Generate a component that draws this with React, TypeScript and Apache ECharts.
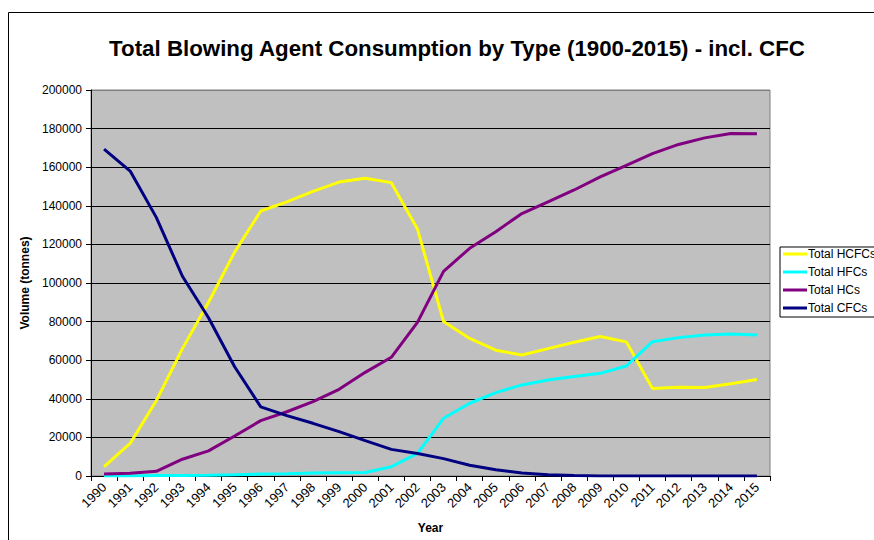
import React, { useEffect, useRef } from "react";
import * as echarts from "echarts";

const years = [
  "1990", "1991", "1992", "1993", "1994", "1995", "1996", "1997", "1998", "1999",
  "2000", "2001", "2002", "2003", "2004", "2005", "2006", "2007", "2008", "2009",
  "2010", "2011", "2012", "2013", "2014", "2015",
];

const hcfcs = [
  4800, 16900, 39000, 66000, 90000, 116000, 137300, 142000, 147500, 152300,
  154300, 152000, 128000, 80000, 71300, 65200, 62700, 66000, 69300, 72300,
  69500, 45300, 46000, 45800, 47800, 50000,
];
const hfcs = [
  0, 0, 200, 300, 400, 600, 1000, 1200, 1500, 1700,
  1800, 4800, 11700, 29900, 37700, 43200, 47200, 49700, 51500, 53200,
  57000, 69600, 71700, 73100, 73600, 73100,
];
const hcs = [
  1000, 1400, 2400, 8700, 13000, 20700, 28700, 33300, 38500, 44900,
  53700, 61500, 79600, 106000, 118000, 126600, 136000, 142000, 148200, 155000,
  161000, 167000, 171800, 175200, 177500, 177300,
];
const cfcs = [
  169400, 158000, 134000, 103500, 82000, 56600, 35800, 31300, 27300, 23000,
  18300, 13800, 11700, 9000, 5600, 3200, 1600, 700, 200, 0,
  0, 0, 0, 0, 0, 0,
];

const seriesNames = ["Total HCFCs", "Total HFCs", "Total HCs", "Total CFCs"];
const seriesColors = ["#FFFF00", "#00FFFF", "#800080", "#000080"];
const yTicks = { min: 0, max: 200000, interval: 20000 };

const FONT = "'Liberation Sans', Arial, sans-serif";

export default function App() {
  const ref = useRef<HTMLDivElement>(null);
  useEffect(() => {
    if (!ref.current) return;
    const chart = echarts.init(ref.current, undefined, { renderer: "svg" });
    const data = [hcfcs, hfcs, hcs, cfcs];
    chart.setOption({
      animation: false,
      backgroundColor: "#ffffff",
      textStyle: { fontFamily: FONT },
      title: {
        text: "Total Blowing Agent Consumption by Type (1900-2015) - incl. CFC",
        left: 452,
        textAlign: "center",
        top: 32,
        textStyle: { fontFamily: FONT, fontSize: 22.3, fontWeight: "bold", color: "#000" },
      },
      graphic: [
        {
          type: "rect",
          shape: { x: 8.5, y: 12.5, width: 900, height: 600 },
          style: { fill: "none", stroke: "#000", lineWidth: 1 },
          silent: true,
        },
      ],
      legend: {
        orient: "vertical",
        left: 780,
        top: 247,
        padding: [1, 6, 3, 3],
        itemGap: 6,
        itemWidth: 24,
        itemHeight: 14,
        borderColor: "#000",
        borderWidth: 1,
        backgroundColor: "#fff",
        textStyle: { fontFamily: FONT, fontSize: 12, color: "#000", padding: [0, 0, 0, -4] },
        data: seriesNames.map((n) => ({ name: n, icon: "path://M0,0 L24,0 L24,3 L0,3 Z" })),
      },
      grid: {
        left: 91,
        right: 104,
        top: 90,
        bottom: 64,
        show: true,
        backgroundColor: "#C0C0C0",
        borderColor: "#808080",
        borderWidth: 1,
      },
      xAxis: {
        type: "category",
        data: years,
        boundaryGap: true,
        name: "Year",
        nameLocation: "middle",
        nameGap: 46,
        nameTextStyle: { fontFamily: FONT, fontSize: 12, fontWeight: "bold", color: "#000" },
        axisLine: { lineStyle: { color: "#000", width: 1 } },
        axisTick: { show: true, length: 5, lineStyle: { color: "#000" } },
        axisLabel: {
          interval: 0,
          rotate: 45,
          fontFamily: FONT,
          fontSize: 13,
          color: "#000",
          margin: 9,
        },
        splitLine: { show: false },
      },
      yAxis: {
        type: "value",
        min: yTicks.min,
        max: yTicks.max,
        interval: yTicks.interval,
        name: "Volume (tonnes)",
        nameLocation: "middle",
        nameGap: 52,
        nameTextStyle: { fontFamily: FONT, fontSize: 12, fontWeight: "bold", color: "#000" },
        axisLine: { show: true, lineStyle: { color: "#000", width: 1 } },
        axisTick: { show: true, length: 5, lineStyle: { color: "#000" } },
        axisLabel: {
          fontFamily: FONT,
          fontSize: 12,
          color: "#000",
          margin: 9,
          formatter: (v: number) => String(v),
        },
        splitLine: {
          show: true,
          lineStyle: {
            color: ["#000", "#000", "#000", "#000", "#000", "#000", "#000", "#000", "#000", "#000", "#808080"],
            width: 1,
          },
        },
      },
      series: seriesNames.map((name, i) => ({
        name,
        type: "line",
        data: data[i],
        symbol: "none",
        lineStyle: { color: seriesColors[i], width: 3 },
        itemStyle: { color: seriesColors[i] },
      })),
    });
    return () => chart.dispose();
  }, []);
  return (
    <div
      ref={ref}
      style={{ position: "fixed", left: 0, top: 0, width: 874, height: 540 }}
    />
  );
}
